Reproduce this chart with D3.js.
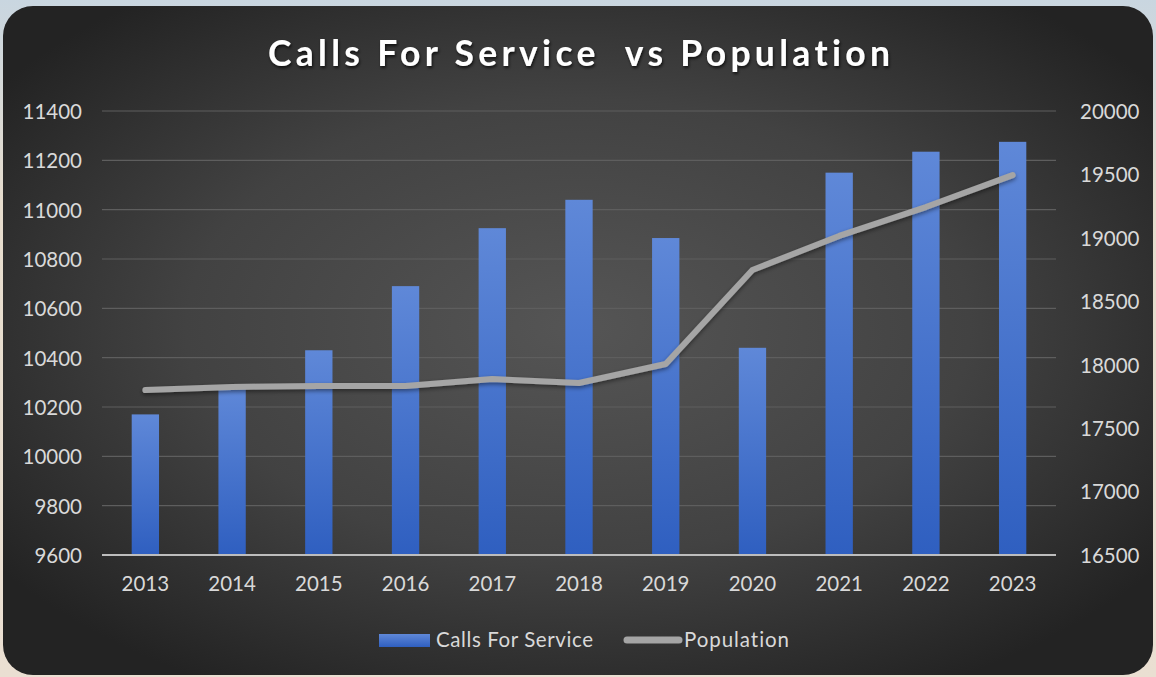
<!DOCTYPE html>
<html>
<head>
<meta charset="utf-8">
<script src="https://cdn.jsdelivr.net/npm/d3@7/dist/d3.min.js"></script>
<style>
  html, body { margin: 0; padding: 0; }
  body { width: 1156px; height: 677px; overflow: hidden;
         background: linear-gradient(180deg, #c9d6e0 0%, #e6dccd 30%, #eadfd2 100%); }
  svg { display: block; }
  svg text { font-variant-ligatures: none; font-feature-settings: "liga" 0, "clig" 0; }
</style>
</head>
<body>
<svg id="chart" width="1156" height="677"></svg>
<script>
// Yearly calls for service (left axis) and city population (right axis)
const years = ["2013","2014","2015","2016","2017","2018","2019","2020","2021","2022","2023"];
const callsForService = [10170, 10280, 10430, 10690, 10925, 11040, 10885, 10440, 11150, 11235, 11275];
const population = [17800, 17825, 17832, 17832, 17887, 17856, 18006, 18747, 19015, 19243, 19495];
const leftTicks = [9600, 9800, 10000, 10200, 10400, 10600, 10800, 11000, 11200, 11400];
const rightTicks = [16500, 17000, 17500, 18000, 18500, 19000, 19500, 20000];
const titleText = "Calls For Service  vs Population";
const seriesNames = ["Calls For Service", "Population"];

const svg = d3.select("#chart");
const defs = svg.append("defs");

// panel background: radial glow in the middle fading to near-black edges
const bg = defs.append("radialGradient").attr("id", "panelBg")
  .attr("cx", "50%").attr("cy", "48%").attr("r", "62%");
bg.append("stop").attr("offset", "0%").attr("stop-color", "#555555");
bg.append("stop").attr("offset", "55%").attr("stop-color", "#424242");
bg.append("stop").attr("offset", "100%").attr("stop-color", "#232323");

const barGrad = defs.append("linearGradient").attr("id", "barGrad")
  .attr("x1", 0).attr("y1", 0).attr("x2", 0).attr("y2", 1);
barGrad.append("stop").attr("offset", "0%").attr("stop-color", "#5f88d8");
barGrad.append("stop").attr("offset", "100%").attr("stop-color", "#2f5fc0");

const shadow = defs.append("filter").attr("id", "txtShadow")
  .attr("x", "-5%").attr("y", "-20%").attr("width", "110%").attr("height", "160%");
shadow.append("feDropShadow").attr("dx", 1).attr("dy", 2).attr("stdDeviation", 1.5)
  .attr("flood-color", "#000").attr("flood-opacity", 0.7);

const lineShadow = defs.append("filter").attr("id", "lineShadow")
  .attr("x", "-5%").attr("y", "-20%").attr("width", "110%").attr("height", "140%");
lineShadow.append("feDropShadow").attr("dx", 0).attr("dy", 2).attr("stdDeviation", 2)
  .attr("flood-color", "#000").attr("flood-opacity", 0.45);

svg.append("rect").attr("x", 3).attr("y", 6).attr("width", 1150).attr("height", 669)
  .attr("rx", 30).attr("ry", 30).attr("fill", "url(#panelBg)");

const plot = { left: 102, right: 1056, top: 111, bottom: 555 };

const x = d3.scaleBand().domain(years).range([plot.left, plot.right]).paddingInner(0.685).paddingOuter(0.3425);
const yL = d3.scaleLinear().domain([9600, 11400]).range([plot.bottom, plot.top]);
const yR = d3.scaleLinear().domain([16500, 20000]).range([plot.bottom, plot.top]);

// horizontal gridlines from the left axis
svg.append("g")
  .selectAll("line").data(leftTicks.slice(1)).join("line")
  .attr("x1", plot.left).attr("x2", plot.right)
  .attr("y1", d => yL(d)).attr("y2", d => yL(d))
  .attr("stroke", "#5e5e5e").attr("stroke-width", 1.2);

// bars
svg.append("g").selectAll("rect").data(years).join("rect")
  .attr("x", (d) => x(d))
  .attr("width", x.bandwidth())
  .attr("y", (d, i) => yL(callsForService[i]))
  .attr("height", (d, i) => yL(9600) - yL(callsForService[i]))
  .attr("fill", "url(#barGrad)");

// category axis baseline
svg.append("line").attr("x1", plot.left).attr("x2", plot.right)
  .attr("y1", plot.bottom).attr("y2", plot.bottom)
  .attr("stroke", "#bdbdbd").attr("stroke-width", 2);

// population line
const line = d3.line()
  .x((d, i) => x(years[i]) + x.bandwidth() / 2)
  .y(d => yR(d));
svg.append("path").datum(population)
  .attr("d", line)
  .attr("fill", "none").attr("stroke", "#a5a5a5")
  .attr("stroke-width", 6).attr("stroke-linecap", "round").attr("stroke-linejoin", "round")
  .attr("filter", "url(#lineShadow)");

const labelFont = "Lato, 'Open Sans', sans-serif";
const labelColor = "#d9d9d9";
const labelSize = 20.5;

// left axis
const axL = svg.append("g").attr("transform", `translate(${plot.left - 20},0)`)
  .call(d3.axisLeft(yL).tickValues(leftTicks).tickSize(0).tickPadding(0).tickFormat(d3.format("d")));
axL.select(".domain").remove();
axL.selectAll("text").attr("fill", labelColor).attr("font-size", labelSize).attr("font-family", labelFont).attr("dy", "0.36em");

// right axis
const axR = svg.append("g").attr("transform", `translate(${plot.right + 24},0)`)
  .call(d3.axisRight(yR).tickValues(rightTicks).tickSize(0).tickPadding(0).tickFormat(d3.format("d")));
axR.select(".domain").remove();
axR.selectAll("text").attr("fill", labelColor).attr("font-size", labelSize).attr("font-family", labelFont).attr("dy", "0.36em");

// category axis labels
const axB = svg.append("g").attr("transform", `translate(0,${plot.bottom + 18})`)
  .call(d3.axisBottom(x).tickSize(0).tickPadding(0));
axB.select(".domain").remove();
axB.selectAll("text").attr("fill", labelColor).attr("font-size", labelSize).attr("font-family", labelFont).attr("dy", "0.88em");

// title
svg.append("text").attr("x", 268).attr("y", 66)
  .attr("font-family", labelFont).attr("font-weight", 700).attr("font-size", 35.5)
  .attr("textLength", 622).attr("lengthAdjust", "spacing")
  .attr("fill", "#ffffff").attr("filter", "url(#txtShadow)")
  .attr("xml:space", "preserve").style("white-space", "pre")
  .text(titleText);

// legend
const lg = svg.append("g");
lg.append("rect").attr("x", 379).attr("y", 634).attr("width", 51).attr("height", 13).attr("fill", "url(#barGrad)");
lg.append("text").attr("x", 436).attr("y", 647).attr("fill", labelColor)
  .attr("font-family", labelFont).attr("font-size", labelSize)
  .attr("textLength", 157).attr("lengthAdjust", "spacing").text(seriesNames[0]);
lg.append("line").attr("x1", 627).attr("x2", 679).attr("y1", 640).attr("y2", 640)
  .attr("stroke", "#a5a5a5").attr("stroke-width", 7).attr("stroke-linecap", "round");
lg.append("text").attr("x", 684).attr("y", 647).attr("fill", labelColor)
  .attr("font-family", labelFont).attr("font-size", labelSize)
  .attr("textLength", 105).attr("lengthAdjust", "spacing").text(seriesNames[1]);
</script>
</body>
</html>
